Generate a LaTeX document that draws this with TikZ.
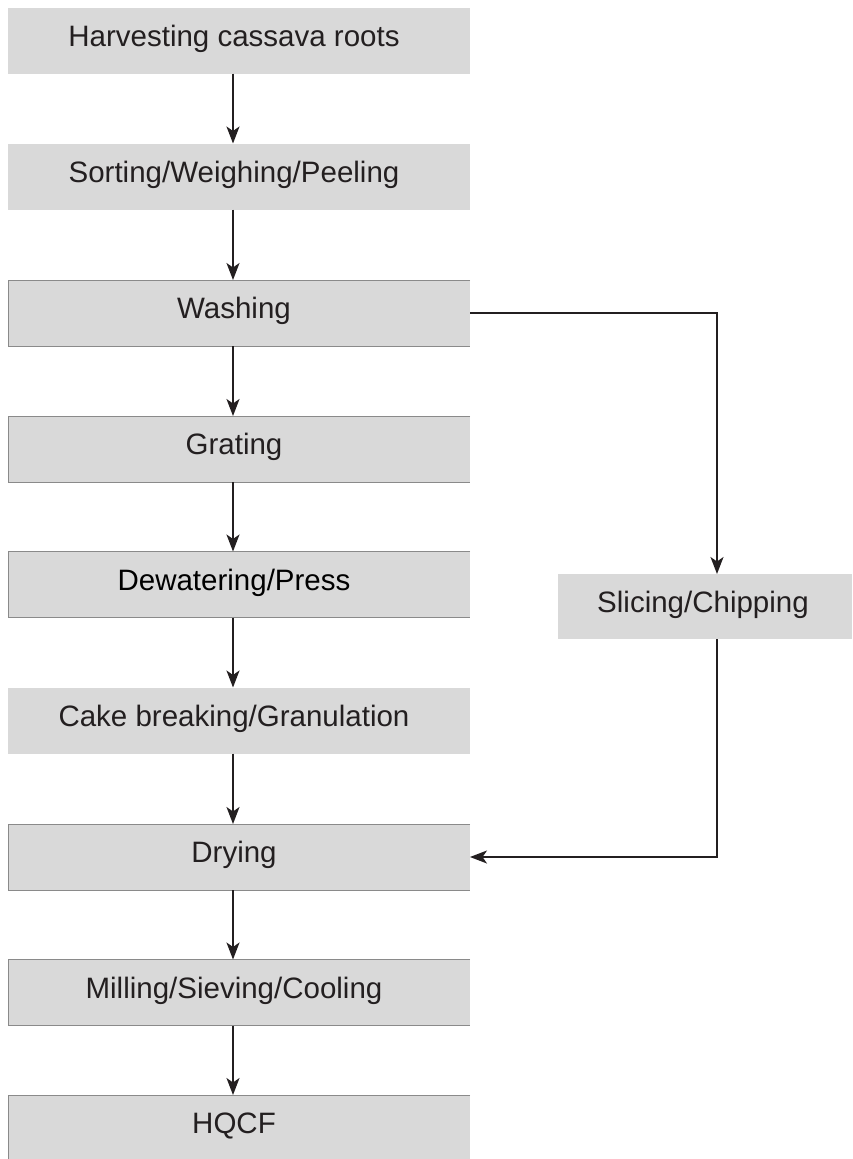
\documentclass[tikz,border=0pt]{standalone}
\usepackage{fontspec}
\setmainfont{Liberation Sans}
\usetikzlibrary{arrows.meta}
\definecolor{boxgray}{HTML}{D9D9D9}
\definecolor{edgegray}{HTML}{8A8A8A}
\definecolor{ink}{HTML}{231F20}
\begin{document}
\begin{tikzpicture}[x=1pt,y=1pt,
  box/.style={fill=boxgray, minimum width=462pt, minimum height=66pt, inner sep=0pt, outer sep=0pt},
  sidebox/.style={fill=boxgray, minimum width=294pt, minimum height=65pt, inner sep=0pt, outer sep=0pt},
  lab/.style={text=ink, font=\fontsize{29.5}{33}\selectfont, inner sep=0pt},
  conn/.style={draw=ink, line width=1.8pt, -{Stealth[length=17pt,width=13pt,inset=4.5pt]}}
]
\useasboundingbox (0,0) rectangle (852,-1159);
% main column
\node[box, label={[lab, xshift=-5pt, yshift=2pt]center:Harvesting cassava roots}] (h) at (239,-40.5) {};
\node[box, label={[lab, xshift=-5pt, yshift=2pt]center:Sorting/Weighing/Peeling}] (s) at (239,-176.5) {};
\node[box, label={[lab, xshift=-5pt, yshift=2pt]center:Washing}] (w) at (239,-313) {};
\node[box, label={[lab, xshift=-5pt, yshift=2pt]center:Grating}] (g) at (239,-449) {};
\node[box, label={[lab, xshift=-5pt, yshift=2pt, text=black]center:Dewatering/Press}] (d) at (239,-584.5) {};
\node[box, label={[lab, xshift=-5pt, yshift=2pt]center:Cake breaking/Granulation}] (c) at (239,-720.5) {};
\node[box, label={[lab, xshift=-5pt, yshift=2pt]center:Drying}] (dr) at (239,-857) {};
\node[box, label={[lab, xshift=-5pt, yshift=2pt]center:Milling/Sieving/Cooling}] (m) at (239,-992.5) {};
\node[box, minimum height=68pt, label={[lab, xshift=-5pt, yshift=3pt]center:HQCF}] (q) at (239,-1129) {};
% side box
\node[sidebox, label={[lab, xshift=-2pt, yshift=2pt]center:Slicing/Chipping}] (sl) at (705,-606.5) {};
% thin edges on some boxes
\foreach \n in {w,g,d,dr,m,q}{
  \draw[edgegray, line width=0.6pt] (\n.north east) -- (\n.north west) -- (\n.south west) -- (\n.south east);
}
% vertical connectors
\foreach \a/\b in {h/s, s/w, w/g, g/d, d/c, c/dr, dr/m, m/q}{
  \draw[conn] ([xshift=-6pt]\a.south) -- ([xshift=-6pt]\b.north);
}
% side branch
\coordinate (wr) at (w.east);
\draw[conn] (wr) -- (717,-313) -- (sl.north -| 717,0);
\coordinate (tr) at (717,-857);
\draw[conn] (sl.south -| 717,0) -- (tr) -- (dr.east);
\end{tikzpicture}
\end{document}
